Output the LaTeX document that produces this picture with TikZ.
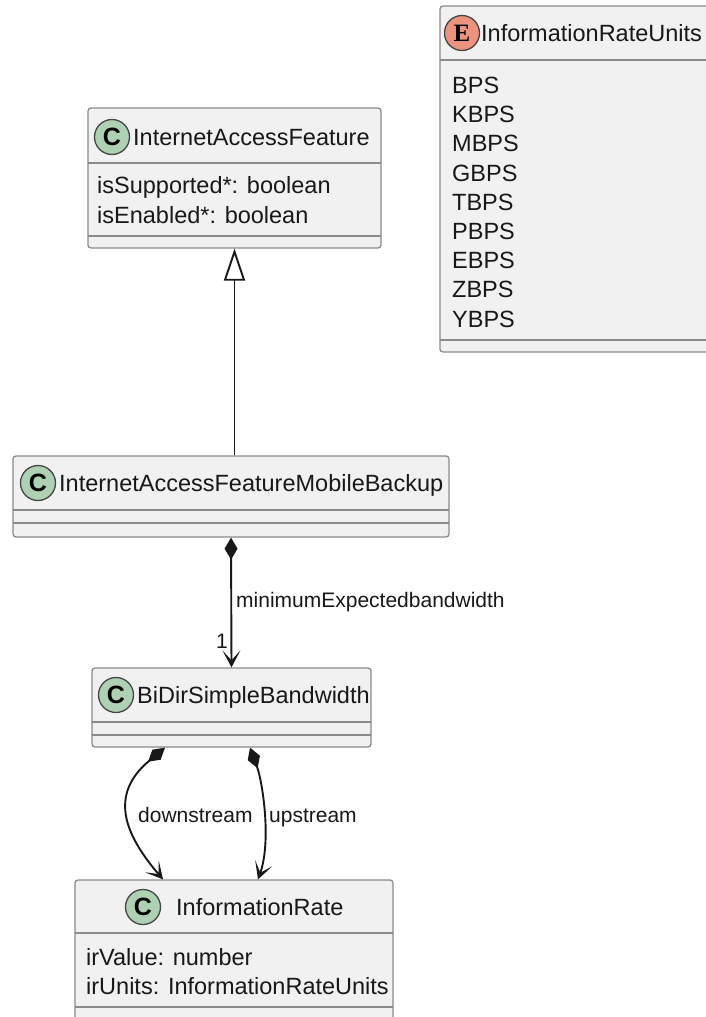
\documentclass[tikz,border=0pt]{standalone}
\usepackage{fontspec}
\setmainfont{Liberation Sans}
\newfontfamily\spotserif{Liberation Serif}
\usetikzlibrary{arrows.meta}
\definecolor{boxfill}{HTML}{F1F1F1}
\definecolor{boxline}{HTML}{8A8A8A}
\definecolor{ink}{HTML}{181818}
\definecolor{spotc}{HTML}{ADD1B2}
\definecolor{spote}{HTML}{EB937F}
\begin{document}
\begin{tikzpicture}[x=1pt,y=-1pt,line join=round,font=\fontsize{23.5}{28}\selectfont]
    \tikzset{classbox/.style={draw=boxline,fill=boxfill,line width=1.3pt,rounded corners=3pt,inner sep=0pt},
        divider/.style={draw=boxline,line width=1.3pt},
        spot/.style={circle,draw=ink!80,line width=1.3pt,minimum size=35pt,inner sep=0pt,font=\fontsize{25}{25}\selectfont\bfseries},
        member/.style={anchor=base west,inner sep=0pt,text=ink},
        link/.style={draw=ink,line width=1.9pt},
        link label/.style={anchor=base west,inner sep=0pt,text=ink,font=\fontsize{21}{24}\selectfont}}
    \def\headtip{{Stealth[length=17pt,width=18pt,inset=10pt]}}
    \def\wholetip{{Diamond[length=22pt,width=13pt]}}
    \useasboundingbox (0,0) rectangle (706,1017);
    % InternetAccessFeature
    \node[classbox,minimum width=293pt,minimum height=140pt] (feat) at (234.5,178) {};
    \draw[divider] (88,163) -- (381,163) (88,236) -- (381,236);
    \node[spot,fill=spotc] (featspot) at (112,137) {C};
    \node[member] (feattitle) at (133,145) {InternetAccessFeature};
    \node[member] (feata) at (97,193) {isSupported*: boolean};
    \node[member] (featb) at (97,223) {isEnabled*: boolean};
    % InformationRateUnits
    \node[classbox,minimum width=282pt,minimum height=346pt] (units) at (581,179) {};
    \draw[divider] (440,60) -- (722,60) (440,340) -- (722,340);
    \node[spot,fill=spote,font=\fontsize{25}{25}\selectfont\spotserif\bfseries] (unitsspot) at (462,33) {E};
    \node[member] (unitstitle) at (481,41.5) {InformationRateUnits};
    \foreach \u [count=\i from 0] in {BPS,KBPS,MBPS,GBPS,TBPS,PBPS,EBPS,ZBPS,YBPS}
        \node[member] (unit\i) at (452,93.5+29.2*\i) {\u};
    % InternetAccessFeatureMobileBackup
    \node[classbox,minimum width=436pt,minimum height=81pt] (mobile) at (231,496.5) {};
    \draw[divider] (13,510) -- (449,510) (13,523) -- (449,523);
    \node[spot,fill=spotc] (mobilespot) at (38,483) {C};
    \node[member] (mobiletitle) at (59,491.5) {InternetAccessFeatureMobileBackup};
    % BiDirSimpleBandwidth
    \node[classbox,minimum width=279pt,minimum height=79pt] (bidir) at (231.5,707.5) {};
    \draw[divider] (92,722) -- (371,722) (92,735) -- (371,735);
    \node[spot,fill=spotc] (bidirspot) at (116,695) {C};
    \node[member] (bidirtitle) at (137,703.5) {BiDirSimpleBandwidth};
    % InformationRate
    \node[classbox,minimum width=318pt,minimum height=142pt] (rate) at (234,951) {};
    \draw[divider] (75,933) -- (393,933) (75,1007) -- (393,1007);
    \node[spot,fill=spotc] (ratespot) at (143,907) {C};
    \node[member] (ratetitle) at (176,915.5) {InformationRate};
    \node[member] (ratea) at (86,965) {irValue: number};
    \node[member] (rateb) at (86,994) {irUnits: InformationRateUnits};
    % links
    \draw[link,-{Triangle[length=32pt,width=21pt,fill=white]}] (feat.south |- mobile.north) -- (feat.south);
    \draw[link,\wholetip-\headtip] (mobile.south) -- (bidir.north)
        node[pos=0.5,link label,xshift=4pt,yshift=-5pt] (minlabel) {minimumExpectedbandwidth};
    \node[link label] (mult) at (216,648) {1};
    \draw[link,\wholetip-\headtip] ([xshift=-66.5pt]bidir.south)
        .. controls (108,795) and (125,835) .. ([xshift=-71pt]rate.north);
    \draw[link,\wholetip-\headtip] ([xshift=18.5pt]bidir.south)
        .. controls (262,780) and (272,840) .. ([xshift=24pt]rate.north);
    \node[link label] (down) at (138,822) {downstream};
    \node[link label] (up) at (269,822) {upstream};
\end{tikzpicture}
\end{document}
